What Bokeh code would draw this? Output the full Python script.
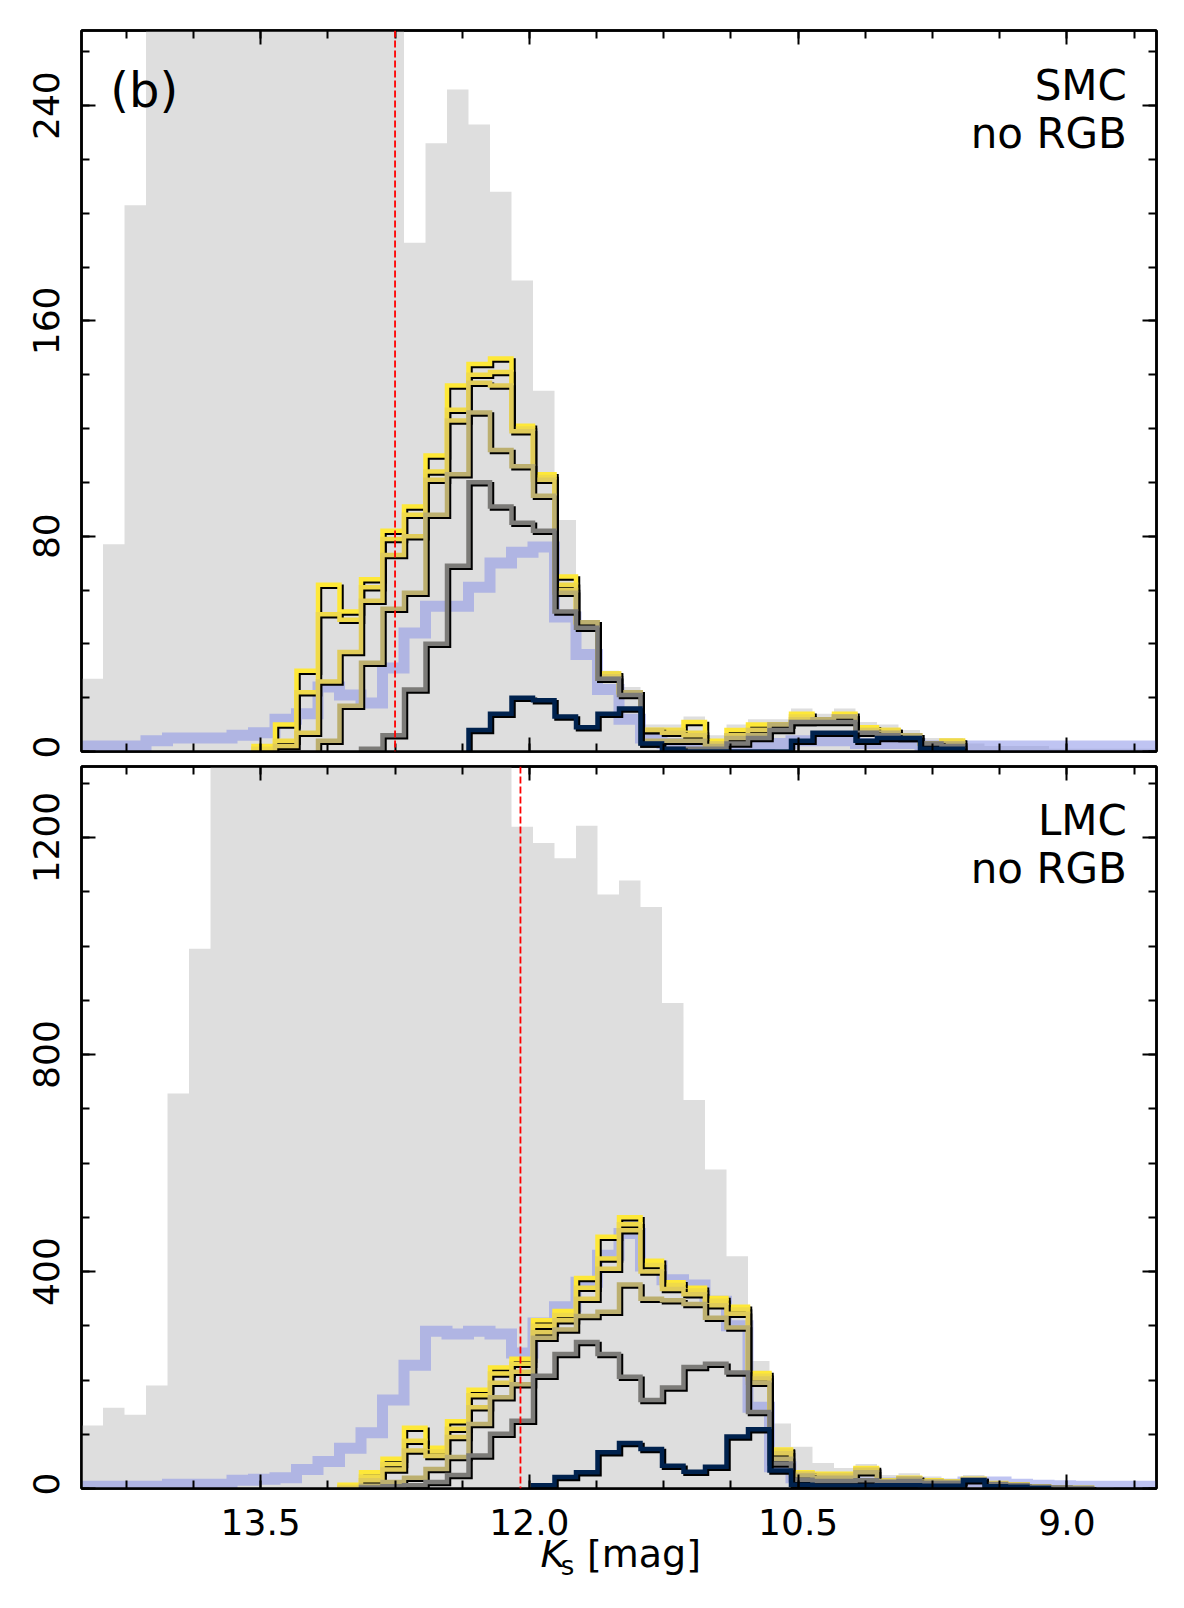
import numpy as np
from bokeh.plotting import figure
from bokeh.layouts import column
from bokeh.models import (Range1d, LinearAxis, FixedTicker, PrintfTickFormatter,
                          CustomJSTickFormatter, Span, Label)
from bokeh.embed import file_html
from bokeh.resources import INLINE

# ---------------- data ----------------
KS_MIN, KS_MAX, N_BINS = 8.5, 14.5, 50          # histogram range / bins (axis reversed)
X_MAJOR = [15.0, 13.5, 12.0, 10.5, 9.0, 7.5]
X_TICK_LABELS = ["13.5", "12.0", "10.5", "9.0"]

# SMC panel (bins ordered from Ks=14.5 down to 8.5)
smc_all = [27, 77, 203, 305, 410, 490, 530, 520, 470, 420, 380, 345, 320, 300, 285,
           189, 226, 246, 233, 208, 175, 134, 86, 45, 30, 24, 10, 10, 13, 6,
           10, 12, 12, 16, 14, 16, 11, 10, 8, 5, 5, 3, 2, 2, 2, 1, 1, 1, 1, 1]
smc_blue = [2, 2, 2, 4, 5, 5, 5, 6, 7, 12, 14, 24, 21, 18, 31, 44, 54, 54, 61, 70,
            74, 76, 50, 36, 23, 12, 5, 3, 3, 2, 2, 2, 3, 4, 4, 4, 3, 3, 3, 2,
            2, 2, 2, 2, 2, 2, 2, 2, 2, 2]
smc_h1 = [0] * 8 + [2, 10, 30, 62, 52, 64, 82, 91, 110, 136, 144, 146, 121, 103, 65, 48, 29, 22,
                    8, 8, 11, 4, 8, 10, 10, 14, 12, 14, 9, 8, 6, 3, 4] + [0] * 9
smc_h2 = [0] * 8 + [1, 4, 22, 51, 49, 61, 79, 88, 104, 127, 140, 141, 120, 102, 62, 48, 29, 22,
                    8, 8, 7, 3, 6, 8, 10, 13, 12, 13, 8, 8, 6, 3, 4] + [0] * 9
smc_h3 = [0] * 8 + [0, 2, 7, 26, 37, 56, 73, 80, 101, 123, 137, 136, 119, 101, 60, 48, 28, 22,
                    8, 7, 6, 3, 6, 8, 10, 12, 12, 13, 8, 7, 6, 3, 3] + [0] * 9
smc_h4 = [0] * 8 + [0, 0, 0, 4, 17, 33, 53, 59, 88, 103, 126, 112, 106, 95, 59, 48, 27, 22,
                    4, 4, 4, 2, 5, 6, 10, 11, 12, 13, 7, 7, 6, 3, 3] + [0] * 9
smc_h5 = [0] * 8 + [0, 0, 0, 0, 0, 1, 6, 23, 40, 69, 100, 91, 85, 82, 52, 46, 27, 21,
                    3, 1, 1, 1, 3, 5, 8, 11, 11, 11, 7, 6, 5, 3, 2] + [0] * 9
smc_h6 = [0] * 8 + [0, 0, 0, 0, 0, 0, 0, 0, 0, 0, 8, 14, 20, 19, 13, 9, 14, 16,
                    3, 1, 0, 0, 0, 0, 0, 4, 7, 7, 4, 5, 5, 1, 1] + [0] * 9

# LMC panel
lmc_all = [116, 149, 136, 190, 728, 995, 1420, 1650, 1850, 2000, 2100, 2150, 2100, 2000, 1900,
           1750, 1600, 1500, 1420, 1380, 1220, 1190, 1162, 1222, 1095, 1121, 1072, 895, 716, 588,
           428, 235, 120, 77, 47, 38, 45, 25, 28, 22, 18, 25, 14, 12, 8, 6, 4, 3, 2, 2]
lmc_blue = [4, 4, 4, 4, 8, 8, 8, 15, 17, 20, 35, 50, 74, 103, 163, 227, 290, 285, 290, 285,
            250, 305, 335, 380, 430, 470, 410, 385, 375, 345, 300, 150, 40, 20, 12, 12, 10, 10, 10, 8,
            8, 12, 12, 8, 6, 5, 4, 4, 4, 4]
lmc_h1 = [0] * 12 + [7, 30, 55, 112, 75, 124, 182, 223, 239, 310, 327, 388, 464, 500, 420, 380, 370,
                     351, 335, 213, 72, 30, 27, 27, 38, 15, 20, 15, 13, 18, 10, 8, 4, 2, 1, 0, 0, 0]
lmc_h2 = [0] * 12 + [3, 22, 45, 88, 68, 110, 172, 212, 230, 300, 320, 370, 424, 487, 412, 375, 365,
                     346, 330, 208, 70, 28, 26, 26, 36, 14, 19, 14, 12, 17, 9, 7, 3, 2, 1, 0, 0, 0]
lmc_h3 = [0] * 12 + [1, 15, 35, 70, 60, 95, 150, 195, 215, 288, 310, 350, 405, 476, 400, 368, 358,
                     338, 322, 203, 65, 27, 24, 24, 34, 14, 19, 14, 12, 17, 9, 7, 3, 2, 1, 0, 0, 0]
lmc_h4 = [0] * 12 + [0, 5, 12, 20, 36, 58, 119, 168, 192, 278, 293, 318, 326, 376, 350, 347, 340,
                     315, 297, 195, 55, 24, 20, 20, 30, 14, 18, 13, 12, 17, 9, 7, 3, 2, 1, 0, 0, 0]
lmc_h5 = [0] * 12 + [0, 2, 4, 6, 12, 25, 61, 101, 125, 208, 248, 270, 248, 206, 163, 186, 224,
                     230, 214, 141, 46, 16, 14, 14, 15, 12, 14, 10, 10, 16, 8, 6, 3, 2, 1, 0, 0, 0]
lmc_h6 = [0] * 12 + [0, 0, 0, 0, 0, 0, 0, 0, 0, 6, 21, 30, 67, 84, 73, 42, 31,
                     40, 96, 109, 33, 7, 5, 5, 5, 6, 6, 5, 5, 15, 4, 3, 1, 0, 0, 0, 0, 0]

TRGB_SMC, TRGB_LMC = 12.75, 12.05

LINE_COLORS = ["#fee838", "#f0da49", "#e0cb59", "#bcaf6f", "#7c7b78", "#00224e"]
GRAY = "#dedede"
BLUE = "#8a94e8"

# ---------------- helpers ----------------
edges = np.linspace(KS_MAX, KS_MIN, N_BINS + 1)
FIG_W, BL, BR = 1176, 81, 20
FRAME_W = FIG_W - BL - BR
PX_PER_MAG = FRAME_W / (KS_MAX - KS_MIN)
FONT = "DejaVu Sans"
X_RANGE = Range1d(KS_MAX, KS_MIN)


def step_xy(counts, trim=True):
    c = np.asarray(counts, dtype=float)
    if trim:
        nz = np.nonzero(c)[0]
        i0, i1 = nz[0], nz[-1]
    else:
        i0, i1 = 0, len(c) - 1
    xs, ys = [edges[i0]], [0.0]
    for i in range(i0, i1 + 1):
        xs += [edges[i], edges[i + 1]]
        ys += [c[i], c[i]]
    xs.append(edges[i1 + 1])
    ys.append(0.0)
    return np.array(xs), np.array(ys)


def add_axis(p, side, ticker, labelled, fmt=None, standoff=12):
    ax = LinearAxis(ticker=ticker)
    ax.axis_line_width = 2.5
    ax.axis_line_color = "black"
    ax.major_tick_in = 14
    ax.major_tick_out = 0
    ax.minor_tick_in = 8
    ax.minor_tick_out = 0
    ax.major_tick_line_width = 2
    ax.minor_tick_line_width = 2
    ax.major_tick_line_color = "black"
    ax.minor_tick_line_color = "black"
    if labelled:
        ax.formatter = PrintfTickFormatter(format=fmt)
        ax.major_label_text_font = FONT
        ax.major_label_text_font_size = "36px"
        ax.major_label_text_color = "black"
        ax.major_label_standoff = standoff
        if side == "left":
            ax.major_label_orientation = "vertical"
    else:
        ax.formatter = CustomJSTickFormatter(code="return ''")
        ax.major_label_text_font_size = "0px"
        ax.major_label_standoff = 0
    p.add_layout(ax, side)


def make_panel(all_c, blue_c, lines, trgb, ymax, ymaj, ymin_step, frame_h,
               b_top, b_bottom):
    height = b_top + frame_h + b_bottom
    p = figure(width=FIG_W, height=height,
               x_range=X_RANGE, y_range=Range1d(0, ymax),
               output_backend="svg", toolbar_location=None,
               x_axis_location=None, y_axis_location=None,
               min_border_left=BL, min_border_right=BR,
               min_border_top=b_top, min_border_bottom=b_bottom)
    p.grid.visible = False
    p.outline_line_color = "black"
    p.outline_line_width = 2.5
    p.background_fill_color = "white"
    p.border_fill_color = "white"

    xt = FixedTicker(ticks=X_MAJOR,
                     minor_ticks=list(np.arange(7.5, 15.0001, 0.375)))
    yt = FixedTicker(ticks=ymaj,
                     minor_ticks=list(np.arange(0, ymax + 1, ymin_step)))
    add_axis(p, "left", yt, True, "%d", standoff=22)
    add_axis(p, "right", yt, False)
    add_axis(p, "above", xt, False)
    add_axis(p, "below", xt, False)

    # all sources: grey filled histogram
    gx, gy = step_xy(all_c, trim=False)
    p.patch(gx, gy, fill_color=GRAY, line_color=None)
    # thick translucent blue step histogram
    bx, by = step_xy(blue_c, trim=False)
    p.line(bx, by, line_color=BLUE, line_alpha=0.55, line_width=11, line_join="miter")

    px_per_unit = frame_h / ymax
    dx = 2.0 / PX_PER_MAG
    dy = 2.0 / px_per_unit
    for counts, col in zip(lines, LINE_COLORS):
        sx, sy = step_xy(counts)
        p.line(sx - dx, sy - dy, line_color="black", line_width=4.5, line_join="miter")
        p.line(sx, sy, line_color=col, line_width=4.5, line_join="miter")

    p.add_layout(Span(location=trgb, dimension="height", line_color="red",
                      line_width=1.8, line_dash="7 3"))
    return p


TOP_H, BOT_H = 721, 722
p1 = make_panel(smc_all, smc_blue, [smc_h1, smc_h2, smc_h3, smc_h4, smc_h5, smc_h6],
                TRGB_SMC, 267.9, [0, 80, 160, 240], 20, TOP_H, 30, 7)
p2 = make_panel(lmc_all, lmc_blue, [lmc_h1, lmc_h2, lmc_h3, lmc_h4, lmc_h5, lmc_h6],
                TRGB_LMC, 1331.0, [0, 400, 800, 1200], 100, BOT_H, 8, 7)


def lab(p, x, y, text, size, align="left", style="normal"):
    p.add_layout(Label(x=x, y=y, text=text, text_font=FONT, text_font_size=size,
                       text_font_style=style, text_align=align,
                       text_baseline="alphabetic", text_color="black"))


lab(p1, 14.339, 245.8, "(b)", "48px")
lab(p1, 8.665, 247.6, "SMC", "42px", "right")
lab(p1, 8.665, 229.8, "no RGB", "42px", "right")
lab(p2, 8.665, 1232.3, "LMC", "42px", "right")
lab(p2, 8.665, 1143.3, "no RGB", "42px", "right")

# strip below the LMC panel: x tick labels and the K_s [mag] title
P3_H = 105
p3 = figure(width=FIG_W, height=P3_H, x_range=X_RANGE, y_range=Range1d(0, P3_H),
            output_backend="svg", toolbar_location=None,
            x_axis_location=None, y_axis_location=None,
            min_border_left=BL, min_border_right=BR, min_border_top=0, min_border_bottom=0)
p3.grid.visible = False
p3.outline_line_color = None
for tick, txt in zip(X_MAJOR[1:5], X_TICK_LABELS):
    lab(p3, tick, 78.7, txt, "36px", "center")
lab(p3, 11.938, 46.5, "K", "38px", style="italic")
lab(p3, 11.825, 35.0, "s", "26px")
lab(p3, 11.679, 46.5, "[mag]", "38px")

layout = column(p1, p2, p3, spacing=0)
open("out.html", "w").write(file_html(layout, INLINE))
